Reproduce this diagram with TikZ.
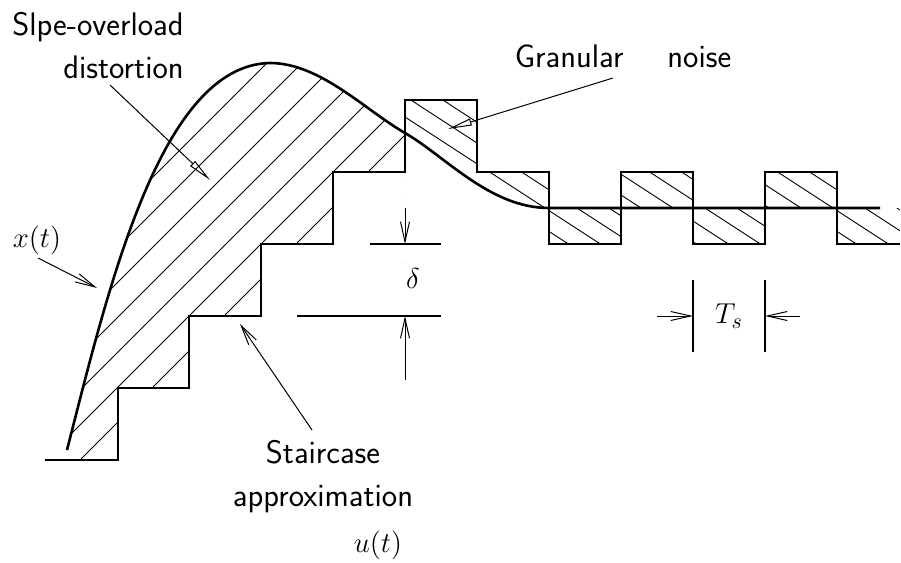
\documentclass[tikz,border=0pt]{standalone}
\usepackage{amsmath}
\usetikzlibrary{arrows.meta,calc}

\tikzset{
  signal/.style={line width=1.3pt, line join=miter},
  hatch/.style={line width=0.45pt},
  pointer/.style={line width=0.5pt, -{Straight Barb[length=10pt,width=4.5pt]}},
  headed/.style={line width=0.5pt, -{Triangle[open,length=12pt,width=3.5pt]}},
  dimline/.style={line width=0.6pt},
  txt/.style={font=\sffamily\fontsize{16.3}{21.5}\selectfont, inner sep=0pt},
  mth/.style={font=\fontsize{15.5}{18}\selectfont, inner sep=0pt}
}

\begin{document}
\begin{tikzpicture}[x=0.5pt, y=-0.5pt]
            \useasboundingbox (0,0) rectangle (901,563);
            % points of x(t)
            \coordinate (x0) at (67,450);
            \coordinate (xpk) at (270,63);
            \coordinate (xc) at (405,133);
            \coordinate (xflat) at (549,208);
            \coordinate (xend) at (880,208);
            % hatching, slope-overload part
            \begin{scope}
              \clip (x0) .. controls (108,290) and (160,65) .. (xpk) .. controls (320,63) and (365,110) .. (xc) -- (405,520) -- (67,520) -- cycle;
              \clip (45,460) -| (118,388) -| (189,316) -| (261,244) -| (333,172) -| (405,0) -- (45,0) -- cycle;
              \foreach \c in {295,330,...,540}
                \draw[hatch] (\c,0) -- (0,\c);
            \end{scope}
            % hatching, granular part
            \begin{scope}[even odd rule]
              \clip (405,100) -| (477,172) -| (549,244) -| (621,172) -| (693,244) -| (765,172) -| (837,244) -- (900,244) -- (900,520) -- (405,520) -- cycle
                (xc) .. controls (445,156) and (490,208) .. (xflat) -- (900,208) -- (900,520) -- (405,520) -- cycle;
              \foreach \c in {1,33,...,769}
                \draw[hatch] (\c,0) -- ++(600,390);
            \end{scope}
            % staircase u(t)
            \draw[signal] (45,460) -| (118,388) -| (189,316) -| (261,244) -| (333,172) -| (405,100) -| (477,172) -| (549,244) -| (621,172) -| (693,244) -| (765,172) -| (837,244) -- (900,244);
            % x(t)
            \draw[signal] (x0) .. controls (108,290) and (160,65) .. (xpk) .. controls (320,63) and (365,110) .. (xc) .. controls (445,156) and (490,208) .. (xflat) -- (xend);
            % labels
            \node[txt, align=right, anchor=north east] (slope) at (184,12) {Slpe-overload\\distortion};
            \node[txt, align=center, anchor=north] (stair) at (323,440) {Staircase\\approximation};
            \node[txt, anchor=base] (gran) at (623,67) {Granular\hspace{22pt}noise};
            \node[mth] (xt) at (37,240) {$x(t)$};
            \node[mth] (ut) at (378,545) {$u(t)$};
            % pointers
            \coordinate (slopetail) at (110,85);
            \coordinate (slopetip) at (210,180);
            \coordinate (grantail) at (613,78);
            \coordinate (grantip) at (448,129);
            \coordinate (xttail) at (38,258);
            \coordinate (xttip) at (97,288);
            \coordinate (stairtail) at (312,430);
            \coordinate (stairtip) at (240,324);
            \draw[headed] (slopetail) -- (slopetip);
            \draw[headed] (grantail) -- (grantip);
            \draw[pointer] (xttail) -- (xttip);
            \draw[pointer] (stairtail) -- (stairtip);
            % step height delta
            \coordinate (dtop) at (405,208);
            \coordinate (dbot) at (405,380);
            \draw[dimline] (370,244) -- (441,244);
            \draw[dimline] (297,316) -- (441,316);
            \draw[pointer] (dtop) -- (405,244);
            \draw[pointer] (dbot) -- (405,316);
            \node[mth] (delta) at (413,278) {$\delta$};
            % sampling period Ts
            \coordinate (tleft) at (657,316);
            \coordinate (tright) at (800,316);
            \draw[dimline] (693,280) -- (693,352);
            \draw[dimline] (765,280) -- (765,352);
            \draw[pointer] (tleft) -- (693,316);
            \draw[pointer] (tright) -- (765,316);
            \node[mth] (Ts) at (729,316) {$T_s$};
\end{tikzpicture}
\end{document}
